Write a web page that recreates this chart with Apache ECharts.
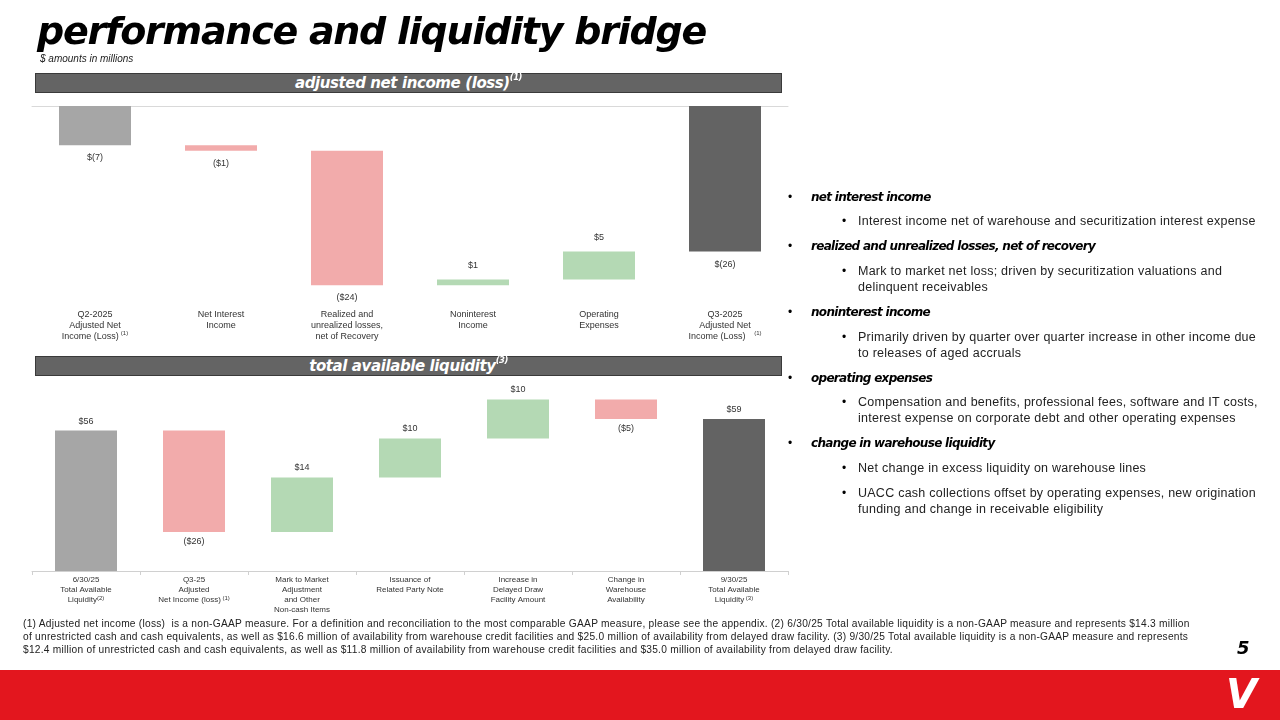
<!DOCTYPE html>
<html><head><meta charset="utf-8">
<script src="https://cdn.jsdelivr.net/npm/echarts@6/dist/echarts.min.js"></script>
<style>
html,body{margin:0;padding:0;width:1280px;height:720px;overflow:hidden;background:#fff;font-family:"Liberation Sans",Arial,sans-serif;}
#chart{position:absolute;left:0;top:0;width:1280px;height:720px;}
.abs{position:absolute;white-space:nowrap;}
.heavy{font-family:"DejaVu Sans",sans-serif;font-weight:bold;font-style:oblique;}
.title{left:37px;top:3px;font-size:38px;letter-spacing:-1.25px;color:#000;line-height:56px;}
.sub{left:40px;top:53px;font-size:10px;font-style:italic;color:#222;}
.hdr{left:35px;width:745px;height:18px;background:#646464;border:1px solid #3a3a3a;color:#fff;text-align:center;font-size:15px;line-height:18px;letter-spacing:-0.4px;}
.hdr sup{font-size:8.5px;vertical-align:top;line-height:9px;position:relative;top:-1px;letter-spacing:-0.5px;}
.h{font-size:12px;letter-spacing:-0.7px;line-height:16px;color:#000;}
.dot{font-size:12px;line-height:16px;color:#000;}
.t{font-size:12.5px;line-height:16px;color:#222;letter-spacing:0.25px;}
.foot{left:23px;top:617px;font-size:10.2px;line-height:13px;color:#222;letter-spacing:0.25px;}
.band{left:0;top:670px;width:1280px;height:50px;background:#e3161e;}
.pg{left:1237px;top:636px;font-size:18px;color:#000;line-height:24px;}
.logo{left:1226px;top:668px;font-size:40px;color:#fff;letter-spacing:-2px;line-height:52px;}
</style>
</head><body>
<div id="chart"></div>
<div class="abs title heavy">performance and liquidity bridge</div>
<div class="abs sub">$ amounts in millions</div>
<div class="abs hdr heavy" style="top:73px;">adjusted net income (loss)<sup>(1)</sup></div>
<div class="abs hdr heavy" style="top:356px;">total available liquidity<sup>(3)</sup></div>

<div class="abs dot" style="left:788px;top:189px;">•</div><div class="abs h heavy" style="left:811px;top:189px;">net interest income</div>
<div class="abs dot" style="left:842px;top:213px;">•</div><div class="abs t" style="left:858px;top:213px;">Interest income net of warehouse and securitization interest expense</div>
<div class="abs dot" style="left:788px;top:238px;">•</div><div class="abs h heavy" style="left:811px;top:238px;">realized and unrealized losses, net of recovery</div>
<div class="abs dot" style="left:842px;top:263px;">•</div><div class="abs t" style="left:858px;top:263px;">Mark to market net loss; driven by securitization valuations and<br>delinquent receivables</div>
<div class="abs dot" style="left:788px;top:304px;">•</div><div class="abs h heavy" style="left:811px;top:304px;">noninterest income</div>
<div class="abs dot" style="left:842px;top:329px;">•</div><div class="abs t" style="left:858px;top:329px;">Primarily driven by quarter over quarter increase in other income due<br>to releases of aged accruals</div>
<div class="abs dot" style="left:788px;top:370px;">•</div><div class="abs h heavy" style="left:811px;top:370px;">operating expenses</div>
<div class="abs dot" style="left:842px;top:394px;">•</div><div class="abs t" style="left:858px;top:394px;">Compensation and benefits, professional fees, software and IT costs,<br>interest expense on corporate debt and other operating expenses</div>
<div class="abs dot" style="left:788px;top:435px;">•</div><div class="abs h heavy" style="left:811px;top:435px;">change in warehouse liquidity</div>
<div class="abs dot" style="left:842px;top:460px;">•</div><div class="abs t" style="left:858px;top:460px;">Net change in excess liquidity on warehouse lines</div>
<div class="abs dot" style="left:842px;top:485px;">•</div><div class="abs t" style="left:858px;top:485px;">UACC cash collections offset by operating expenses, new origination<br>funding and change in receivable eligibility</div>

<div class="abs foot">(1) Adjusted net income (loss)&nbsp; is a non-GAAP measure. For a definition and reconciliation to the most comparable GAAP measure, please see the appendix. (2) 6/30/25 Total available liquidity is a non-GAAP measure and represents $14.3 million<br>of unrestricted cash and cash equivalents, as well as $16.6 million of availability from warehouse credit facilities and $25.0 million of availability from delayed draw facility. (3) 9/30/25 Total available liquidity is a non-GAAP measure and represents<br>$12.4 million of unrestricted cash and cash equivalents, as well as $11.8 million of availability from warehouse credit facilities and $35.0 million of availability from delayed draw facility.</div>
<div class="abs pg heavy">5</div>
<div class="abs band"></div>
<div class="abs logo heavy">V</div>

<script>
// ---- data ----
const topCategories = ['Q2-2025\nAdjusted Net\nIncome (Loss)', 'Net Interest\nIncome', 'Realized and\nunrealized losses,\nnet of Recovery', 'Noninterest\nIncome', 'Operating\nExpenses', 'Q3-2025\nAdjusted Net\nIncome (Loss)'];
const topNotes = ['(1)', '', '', '', '', '    (1)'];
const topValues = [-7, -1, -24, 1, 5, -26];
const topKinds = ['start', 'delta', 'delta', 'delta', 'delta', 'end'];
const topLabels = ['$(7)', '($1)', '($24)', '$1', '$5', '$(26)'];

const botCategories = ['6/30/25\nTotal Available\nLiquidity', 'Q3-25\nAdjusted\nNet Income (loss)', 'Mark to Market\nAdjustment\nand Other\nNon-cash Items', 'Issuance of\nRelated Party Note', 'Increase in\nDelayed Draw\nFacility Amount', 'Change in\nWarehouse\nAvailability', '9/30/25\nTotal Available\nLiquidity'];
const botNotes = ['(2)', ' (1)', '', '', '', '', ' (3)'];
const botValues = [56, -26, 14, 10, 10, -5, 59];
const botKinds = ['start', 'delta', 'delta', 'delta', 'delta', 'delta', 'end'];
const botLabels = ['$56', '($26)', '$14', '$10', '$10', '($5)', '$59'];

const colors = { start: '#a6a6a6', end: '#636363', neg: '#f2abab', pos: '#b4d9b4' };

function bridge(values, kinds, labels, distUp, distDown) {
  let cum = 0; const base = [], vis = [];
  values.forEach((v, i) => {
    let b, h, c;
    if (kinds[i] === 'start') { cum = v; b = '-'; h = v; c = colors.start; }
    else if (kinds[i] === 'end') { b = '-'; h = v; c = colors.end; }
    else {
      const p = cum, n = cum + v; cum = n;
      if (p >= 0 && n >= 0) { b = Math.min(p, n); h = Math.abs(v); }
      else { b = Math.max(p, n); h = -Math.abs(v); }
      c = v < 0 ? colors.neg : colors.pos;
    }
    base.push(b);
    vis.push({ value: h, itemStyle: { color: c },
      label: { show: true, position: v < 0 ? 'bottom' : 'top', distance: v < 0 ? distDown : distUp, formatter: labels[i] } });
  });
  return { base, vis };
}
function catFmt(cats, notes) {
  return (val) => {
    const n = notes[cats.indexOf(val)];
    return val + (n ? '{s|' + n + '}' : '');
  };
}

const T = bridge(topValues, topKinds, topLabels, 10, 8);
const B = bridge(botValues, botKinds, botLabels, 5, 5);
const lblStyle = { color: '#333', fontSize: 9, fontFamily: 'Liberation Sans, Arial' };

const chart = echarts.init(document.getElementById('chart'), null, { renderer: 'canvas' });
chart.setOption({
  animation: false,
  grid: [
    { left: 32, width: 756, top: 106, height: 196 },
    { left: 32, width: 756, top: 376, height: 195 }
  ],
  xAxis: [
    { type: 'category', gridIndex: 0, data: topCategories, position: 'bottom',
      axisLine: { show: false }, axisTick: { show: false },
      axisLabel: { interval: 0, margin: 7, fontSize: 9, lineHeight: 11, color: '#333', fontFamily: 'Liberation Sans, Arial',
        formatter: catFmt(topCategories, topNotes), rich: { s: { fontSize: 6, lineHeight: 11, padding: [0, 0, 6, 2], color: '#333' } } } },
    { type: 'category', gridIndex: 0, data: topCategories, position: 'top',
      axisLine: { show: true, lineStyle: { color: '#d9d9d9', width: 1 } }, axisTick: { show: false }, axisLabel: { show: false } },
    { type: 'category', gridIndex: 1, data: botCategories, position: 'bottom',
      axisLine: { show: true, lineStyle: { color: '#d0d0d0', width: 1 } },
      axisTick: { show: true, length: 4, interval: 0, lineStyle: { color: '#d0d0d0' } },
      axisLabel: { interval: 0, margin: 4, fontSize: 8, lineHeight: 10, color: '#333', fontFamily: 'Liberation Sans, Arial',
        formatter: catFmt(botCategories, botNotes), rich: { s: { fontSize: 6, lineHeight: 10, padding: [0, 0, 3, 0], color: '#333' } } } }
  ],
  yAxis: [
    { type: 'value', gridIndex: 0, min: -35, max: 0, show: false },
    { type: 'value', gridIndex: 1, min: 20, max: 70, show: false }
  ],
  series: [
    { type: 'bar', xAxisIndex: 0, yAxisIndex: 0, stack: 'top', data: T.base, barWidth: 72, itemStyle: { color: 'transparent' }, silent: true },
    { type: 'bar', xAxisIndex: 0, yAxisIndex: 0, stack: 'top', data: T.vis, barWidth: 72, label: lblStyle },
    { type: 'bar', xAxisIndex: 2, yAxisIndex: 1, stack: 'bot', data: B.base, barWidth: 62, itemStyle: { color: 'transparent' }, silent: true },
    { type: 'bar', xAxisIndex: 2, yAxisIndex: 1, stack: 'bot', data: B.vis, barWidth: 62, label: lblStyle }
  ]
});
</script>
</body></html>
